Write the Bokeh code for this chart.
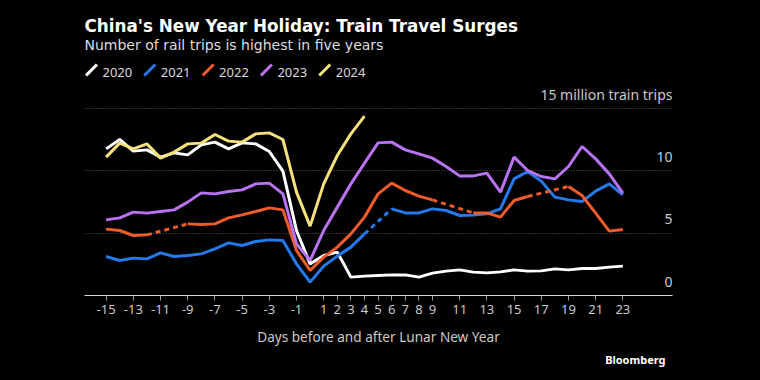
import numpy as np
from bokeh.plotting import figure
from bokeh.models import ColumnDataSource, Range1d, FixedTicker, Grid, Label, PolyAnnotation, Title
from bokeh.core.properties import value
from bokeh.embed import file_html
from bokeh.resources import INLINE

# ---------------- data ----------------
days = list(range(-15, 24))
tick_days = [-15, -13, -11, -9, -7, -5, -3, -1, 1, 2, 3, 4, 5, 6, 7, 8, 9,
             11, 13, 15, 17, 19, 21, 23]
y_ticks = [0, 5, 10, 15]
y_tick_labels = ["0", "5", "10", "15 million train trips"]
years = ["2020", "2021", "2022", "2023", "2024"]
N = None

trips_2020 = [11.73, 12.48, 11.55, 11.65, 11.07, 11.41, 11.25, 12.05, 12.27, 11.73,
              12.21, 12.13, 11.52, 9.95, 5.2, 2.53, 3.2, 3.47, 1.47, 1.55,
              1.6, 1.65, 1.65, 1.47, 1.79, 1.95, 2.05, 1.87, 1.81, 1.89,
              2.05, 1.95, 1.97, 2.13, 2.05, 2.16, 2.16, 2.27, 2.35]
trips_2021 = [3.12, 2.8, 2.99, 2.93, 3.41, 3.12, 3.2, 3.33, 3.73, 4.21,
              4.0, 4.32, 4.45, 4.4, 2.53, 1.07, 2.35, 3.15, 3.87, 4.93,
              N, 6.93, 6.61, 6.61, 6.93, 6.8, 6.4, 6.43, 6.53, 6.93,
              9.33, 9.92, 9.15, 7.87, 7.65, 7.52, 8.35, 8.93, 8.05]
trips_2022 = [5.31, 5.2, 4.8, 4.85, N, N, 5.73, 5.68, 5.73, 6.21,
              6.45, 6.72, 7.01, 6.85, 3.6, 2.0, 3.07, 3.87, 4.93, 6.27,
              8.13, 8.99, 8.4, 7.95, 7.65, N, N, 6.61, 6.61, 6.27,
              7.6, 7.92, N, N, 8.72, 8.0, 6.59, 5.15, 5.28]
trips_2023 = [6.05, 6.21, 6.67, 6.59, 6.72, 6.85, 7.47, 8.21, 8.13, 8.32,
              8.45, 8.93, 8.99, 8.13, 4.13, 2.8, 5.2, 7.07, 8.93, 10.59,
              12.21, 12.27, 11.65, 11.33, 10.99, 10.32, 9.57, 9.57, 9.79, 8.27,
              11.07, 10.0, 9.52, 9.33, 10.32, 11.92, 10.93, 9.73, 8.19]
trips_2024 = [11.07, 12.19, 11.73, 12.13, 10.99, 11.47, 12.13, 12.19, 12.88, 12.35,
              12.27, 12.93, 13.01, 12.48, 8.27, 5.55, 8.93, 11.2, 12.93, 14.35,
              N, N, N, N, N, N, N, N, N, N,
              N, N, N, N, N, N, N, N, N]

series = [trips_2020, trips_2021, trips_2022, trips_2023, trips_2024]
colors = ["#ffffff", "#2479ec", "#f05b2b", "#b872f2", "#f6e27c"]

FONT = "Noto Sans"
HEAD_FONT = "DejaVu Sans"
TEXT_GREY = "#c9c9c9"

# ---------------- figure ----------------
px_per_unit = 12.5
x_range = Range1d(-16.59, 26.65)
y_range = Range1d(0, 295 / px_per_unit)

p = figure(width=760, height=380, output_backend="svg", toolbar_location=None,
           x_range=x_range, y_range=y_range, y_axis_location=None,
           title_location=None,
           min_border_left=84, min_border_right=88, min_border_top=0,
           min_border_bottom=85,
           background_fill_color="black", border_fill_color="black",
           outline_line_color=None)
p.xgrid.grid_line_color = None
p.ygrid.grid_line_color = None

grid = Grid(dimension=1, ticker=FixedTicker(ticks=[t for t in y_ticks if t > 0]),
            grid_line_color="#5e5e5e", grid_line_dash="1 2", grid_line_width=1)
p.add_layout(grid)

# x axis
ax = p.xaxis[0]
ax.ticker = FixedTicker(ticks=tick_days)
ax.major_label_overrides = {d: str(d) for d in tick_days}
ax.axis_line_color = "#d8d8d8"
ax.axis_line_width = 1
ax.major_tick_line_color = "#9a9a9a"
ax.major_tick_in = 0
ax.major_tick_out = 5
ax.minor_tick_line_color = None
ax.major_label_text_color = TEXT_GREY
ax.major_label_text_font = FONT
ax.major_label_text_font_size = "13px"
ax.major_label_standoff = 4
ax.axis_label = "Days before and after Lunar New Year"
ax.axis_label_text_font = FONT
ax.axis_label_text_font_style = "normal"
ax.axis_label_text_font_size = "13.6px"
ax.axis_label_text_color = TEXT_GREY
ax.axis_label_standoff = 10

# y labels (inside, right-aligned above gridlines)
ysrc = ColumnDataSource(dict(x=[x_range.end] * len(y_ticks), y=y_ticks, t=y_tick_labels))
p.text(x="x", y="y", text="t", source=ysrc, text_align="right",
       text_baseline="alphabetic", y_offset=-14, text_color=TEXT_GREY,
       text_font=value(FONT), text_font_size="14px")

# lines
src = ColumnDataSource(dict(day=days, **{y: np.array(s, dtype=float) for y, s in zip(years, series)}))
for yr, s, c in zip(years, series, colors):
    p.line(x="day", y=yr, source=src, line_color=c, line_width=3)
    # dashed bridges over missing days
    x0, y0, x1, y1 = [], [], [], []
    last = None
    for i, v in enumerate(s):
        if v is None:
            continue
        if last is not None and i - last > 1:
            x0.append(days[last]); y0.append(s[last]); x1.append(days[i]); y1.append(v)
        last = i
    if x0:
        p.segment(x0=x0, y0=y0, x1=x1, y1=y1, line_color=c, line_width=3,
                  line_dash="5 4")

# titles (screen units relative to frame bottom-left)
p.add_layout(Label(x=0, y=269.5, x_units="screen", y_units="screen",
                   text="China's New Year Holiday: Train Travel Surges",
                   text_font=HEAD_FONT, text_font_style="bold", text_font_size="16.8px",
                   text_color="white", text_baseline="alphabetic"))
p.add_layout(Label(x=0, y=250.7, x_units="screen", y_units="screen",
                   text="Number of rail trips is highest in five years",
                   text_font=HEAD_FONT, text_font_size="14px",
                   text_color="#dedede", text_baseline="alphabetic"))

# legend (slash swatches + labels)
item_w = 58.3
h = 1.1  # half-thickness offset of the slash
for i, (yr, c) in enumerate(zip(years, colors)):
    x = 1.5 + i * item_w
    y = 220
    p.add_layout(PolyAnnotation(
        xs=[x - h, x + 11 - h, x + 11 + h, x + h],
        ys=[y + h, y + 11 + h, y + 11 - h, y - h],
        xs_units="screen", ys_units="screen",
        fill_color=c, fill_alpha=1, line_color=None))
    p.add_layout(Label(x=x + 16.5, y=223.3, x_units="screen", y_units="screen",
                       text=yr, text_font=FONT, text_font_size="13px",
                       text_color="#d8d8d8", text_baseline="alphabetic"))

# branding
p.add_layout(Title(text="Bloomberg", align="right", offset=7, standoff=2,
                   text_font=FONT, text_font_style="bold", text_font_size="11px",
                   text_color="white"), "below")

html = file_html(p, INLINE)
html = html.replace("<head>", "<head><style>body{background:#000;}</style>", 1)
open("out.html", "w").write(html)
